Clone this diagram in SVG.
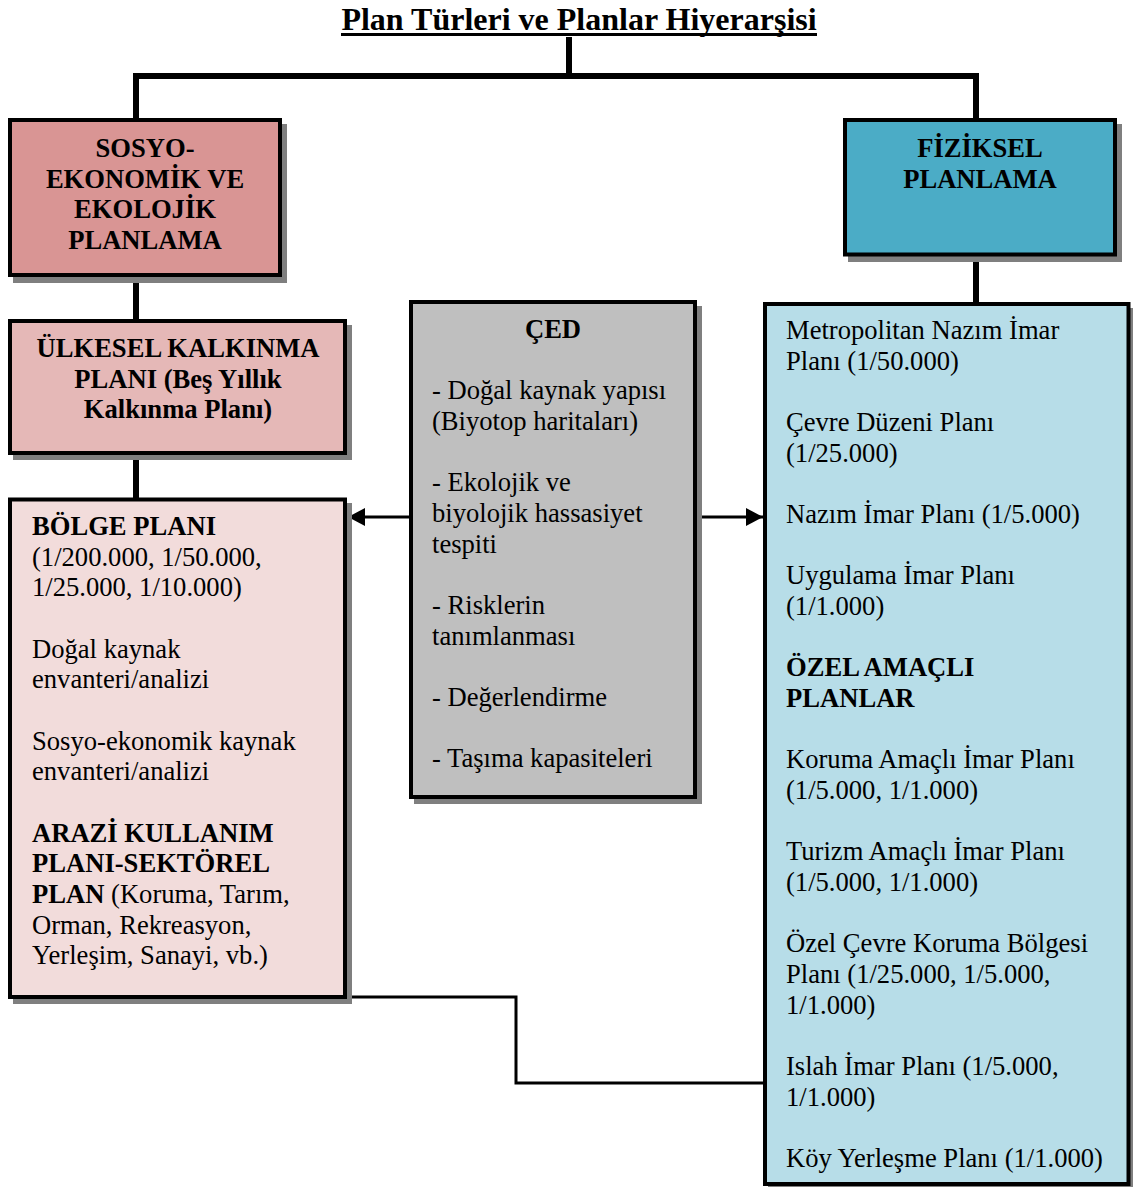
<svg xmlns="http://www.w3.org/2000/svg" width="1133" height="1187" viewBox="0 0 1133 1187">
  <style>
    text { font-family: "Liberation Serif", "Times New Roman", serif; font-size: 26.6px; fill: #000; }
    .b { font-weight: bold; }
    .c { text-anchor: middle; }
    .box { stroke: #000; stroke-width: 4; }
    .shadow { fill: #7f7f7f; }
    .trunk { stroke: #000; stroke-width: 6; fill: none; }
    .link { stroke: #000; stroke-width: 3; fill: none; }
  </style>
  <defs>
    <marker id="arrow" markerUnits="userSpaceOnUse" markerWidth="18" markerHeight="18" refX="17" refY="9" orient="auto">
      <path d="M0,0 L17,9 L0,18 Z" fill="#000"/>
    </marker>
  </defs>
  <rect width="1133" height="1187" fill="#fff"/>

  <!-- title -->
  <g id="title">
    <text class="b c" x="579" y="30" font-size="32" style="font-size:32px">Plan Türleri ve Planlar Hiyerarşisi</text>
    <rect x="341" y="33" width="476" height="3" fill="#000"/>
  </g>

  <!-- connectors -->
  <g id="connectors">
    <path class="trunk" d="M569,37 V76"/>
    <path class="trunk" d="M136,76 H976"/>
    <path class="trunk" d="M136,73 V120"/>
    <path class="trunk" d="M976,73 V120"/>
    <path class="trunk" d="M136,275 V321"/>
    <path class="trunk" d="M136,453 V499"/>
    <path class="trunk" d="M976,254 V304"/>
    <path class="link" d="M411,517 H348" marker-end="url(#arrow)"/>
    <path class="link" d="M695,517 H763" marker-end="url(#arrow)"/>
    <path class="link" d="M345,997 H516 V1083 H765"/>
  </g>

  <!-- socio-economic & ecological planning -->
  <g id="sosyo">
    <rect class="shadow" x="13" y="124" width="274" height="159"/>
    <rect class="box" x="10" y="120" width="270" height="155" fill="#d99594"/>
    <text class="b c" x="145" y="157">SOSYO-</text>
    <text class="b c" x="145" y="187.7">EKONOMİK VE</text>
    <text class="b c" x="145" y="218.3">EKOLOJİK</text>
    <text class="b c" x="145" y="249">PLANLAMA</text>
  </g>

  <!-- physical planning -->
  <g id="fiziksel">
    <rect class="shadow" x="848" y="124" width="274" height="138"/>
    <rect class="box" x="845" y="120" width="270" height="134.5" fill="#4bacc6"/>
    <text class="b c" x="980" y="157">FİZİKSEL</text>
    <text class="b c" x="980" y="187.7">PLANLAMA</text>
  </g>

  <!-- national development plan -->
  <g id="ulkesel">
    <rect class="shadow" x="13" y="325" width="339" height="135"/>
    <rect class="box" x="10" y="321" width="335" height="132" fill="#e5b8b7"/>
    <text class="b c" x="178" y="357">ÜLKESEL KALKINMA</text>
    <text class="b c" x="178" y="387.7">PLANI (Beş Yıllık</text>
    <text class="b c" x="178" y="418.3">Kalkınma Planı)</text>
  </g>

  <!-- regional plan -->
  <g id="bolge">
    <rect class="shadow" x="13" y="503" width="339" height="501"/>
    <rect class="box" x="10" y="499.5" width="335" height="497.5" fill="#f2dcdb"/>
    <text class="b" x="32" y="535">BÖLGE PLANI</text>
    <text x="32" y="565.7">(1/200.000, 1/50.000,</text>
    <text x="32" y="596.3">1/25.000, 1/10.000)</text>
    <text x="32" y="657.7">Doğal kaynak</text>
    <text x="32" y="688.4">envanteri/analizi</text>
    <text x="32" y="749.7">Sosyo-ekonomik kaynak</text>
    <text x="32" y="780.4">envanteri/analizi</text>
    <text class="b" x="32" y="841.7">ARAZİ KULLANIM</text>
    <text class="b" x="32" y="872.4">PLANI-SEKTÖREL</text>
    <text x="32" y="903"><tspan class="b">PLAN</tspan> (Koruma, Tarım,</text>
    <text x="32" y="933.7">Orman, Rekreasyon,</text>
    <text x="32" y="964.4">Yerleşim, Sanayi, vb.)</text>
  </g>

  <!-- environmental impact assessment -->
  <g id="ced">
    <rect class="shadow" x="414" y="306" width="288" height="498"/>
    <rect class="box" x="411" y="302" width="284" height="495" fill="#bfbfbf"/>
    <text class="b c" x="553" y="338">ÇED</text>
    <text x="432" y="399.3">- Doğal kaynak yapısı</text>
    <text x="432" y="430">(Biyotop haritaları)</text>
    <text x="432" y="491.4">- Ekolojik ve</text>
    <text x="432" y="522">biyolojik hassasiyet</text>
    <text x="432" y="552.7">tespiti</text>
    <text x="432" y="614">- Risklerin</text>
    <text x="432" y="644.7">tanımlanması</text>
    <text x="432" y="706">- Değerlendirme</text>
    <text x="432" y="767.4">- Taşıma kapasiteleri</text>
  </g>

  <!-- physical plan types -->
  <g id="imar">
    <rect class="shadow" x="768" y="308" width="370" height="885"/>
    <rect class="box" x="765" y="304" width="363.5" height="880" fill="#b7dde8"/>
    <text x="786" y="339">Metropolitan Nazım İmar</text>
    <text x="786" y="369.7">Planı (1/50.000)</text>
    <text x="786" y="431">Çevre Düzeni Planı</text>
    <text x="786" y="461.7">(1/25.000)</text>
    <text x="786" y="523">Nazım İmar Planı (1/5.000)</text>
    <text x="786" y="584.4">Uygulama İmar Planı</text>
    <text x="786" y="615">(1/1.000)</text>
    <text class="b" x="786" y="676.4">ÖZEL AMAÇLI</text>
    <text class="b" x="786" y="707">PLANLAR</text>
    <text x="786" y="768.4">Koruma Amaçlı İmar Planı</text>
    <text x="786" y="799">(1/5.000, 1/1.000)</text>
    <text x="786" y="860.4">Turizm Amaçlı İmar Planı</text>
    <text x="786" y="891">(1/5.000, 1/1.000)</text>
    <text x="786" y="952.4">Özel Çevre Koruma Bölgesi</text>
    <text x="786" y="983">Planı (1/25.000, 1/5.000,</text>
    <text x="786" y="1013.7">1/1.000)</text>
    <text x="786" y="1075">Islah İmar Planı (1/5.000,</text>
    <text x="786" y="1105.7">1/1.000)</text>
    <text x="786" y="1167">Köy Yerleşme Planı (1/1.000)</text>
  </g>
</svg>
